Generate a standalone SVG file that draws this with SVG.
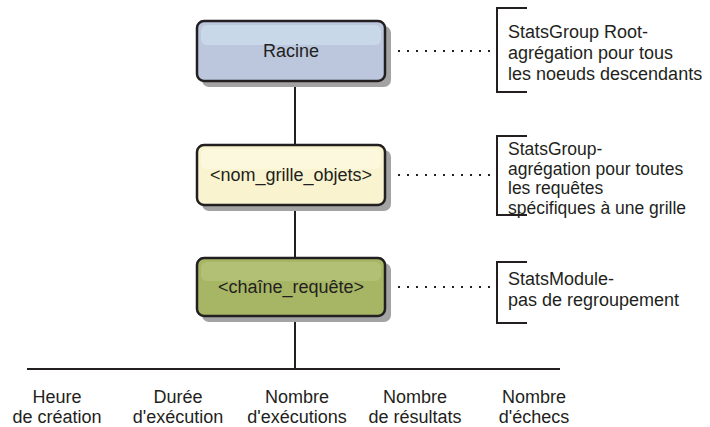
<svg xmlns="http://www.w3.org/2000/svg" width="710" height="427" viewBox="0 0 710 427">
<style>
text{font-family:"Liberation Sans",Arial,sans-serif;font-size:18px;fill:#231f20}
.c{text-anchor:middle}
.t{font-size:17.5px}
.ln{stroke:#231f20;stroke-width:2;fill:none}
.dot{stroke:#231f20;stroke-width:2;stroke-dasharray:2 7;fill:none}
.shadow{fill:#a3a3a3}
.box{stroke:#231f20;stroke-width:2.5}
</style>
<rect width="710" height="427" fill="#ffffff"/>
<g id="connectors">
<line class="ln" x1="295" y1="81" x2="295" y2="369"/>
<line class="ln" x1="27" y1="369" x2="560" y2="369"/>
<line class="dot" x1="398" y1="51" x2="494" y2="51"/>
<line class="dot" x1="398" y1="175" x2="494" y2="175"/>
<line class="dot" x1="398" y1="287" x2="494" y2="287"/>
</g>
<g id="node-racine">
<rect class="shadow" x="202" y="26" width="189" height="61" rx="7"/>
<rect class="box" x="197" y="21" width="188" height="60" rx="7" fill="#bcc7dd"/>
<rect x="201" y="25" width="180" height="20" rx="6" fill="#c8d8e8"/>
<text class="c" x="291" y="57">Racine</text>
</g>
<g id="node-grille">
<rect class="shadow" x="202" y="150" width="189" height="61" rx="7"/>
<rect class="box" x="197" y="145" width="188" height="60" rx="7" fill="#f9f4cf"/>
<rect x="201" y="149" width="180" height="20" rx="6" fill="#fcf8de"/>
<text class="c" x="291" y="181">&lt;nom_grille_objets&gt;</text>
</g>
<g id="node-requete">
<rect class="shadow" x="202" y="263" width="189" height="59" rx="7"/>
<rect class="box" x="197" y="258" width="188" height="58" rx="7" fill="#a7b665"/>
<rect x="201" y="262" width="180" height="19" rx="6" fill="#b2c076"/>
<text class="c" x="291" y="293">&lt;chaîne_requête&gt;</text>
</g>
<g id="note-root">
<path class="ln" d="M527 8 H497 V92 H527"/>
<text x="508" y="38">StatsGroup Root-</text>
<text x="508" y="59">agrégation pour tous</text>
<text x="508" y="80">les noeuds descendants</text>
</g>
<g id="note-group">
<path class="ln" d="M527 136 H497 V215 H527"/>
<text class="t" x="508" y="155">StatsGroup-</text>
<text class="t" x="508" y="174.6">agrégation pour toutes</text>
<text class="t" x="508" y="194.2">les requêtes</text>
<text class="t" x="508" y="213.8">spécifiques à une grille</text>
</g>
<g id="note-module">
<path class="ln" d="M527 262 H497 V323 H527"/>
<text x="508" y="285">StatsModule-</text>
<text x="508" y="306">pas de regroupement</text>
</g>
<g id="leaf-heure"><text class="c" x="57" y="403">Heure</text><text class="c" x="57" y="423">de création</text></g>
<g id="leaf-duree"><text class="c" x="178" y="403">Durée</text><text class="c" x="178" y="423">d'exécution</text></g>
<g id="leaf-nbexec"><text class="c" x="297" y="403">Nombre</text><text class="c" x="297" y="423">d'exécutions</text></g>
<g id="leaf-nbres"><text class="c" x="415" y="403">Nombre</text><text class="c" x="415" y="423">de résultats</text></g>
<g id="leaf-nbech"><text class="c" x="534" y="403">Nombre</text><text class="c" x="534" y="423">d'échecs</text></g>
</svg>
